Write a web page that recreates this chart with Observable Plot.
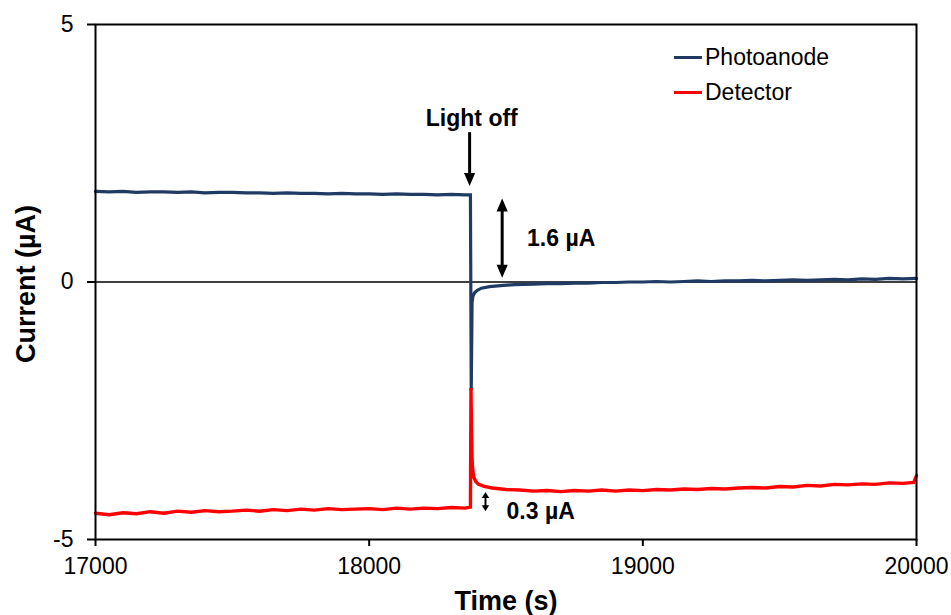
<!DOCTYPE html>
<html>
<head>
<meta charset="utf-8">
<script src="https://cdn.jsdelivr.net/npm/d3@7"></script>
<script src="https://cdn.jsdelivr.net/npm/@observablehq/plot@0.6"></script>
<style>
html,body{margin:0;padding:0;background:#fff;overflow:hidden;}
#wrap{position:relative;width:951px;height:615px;}
.legend{position:absolute;left:674px;top:40px;font-family:"Liberation Sans",Arial,sans-serif;font-size:23px;color:#000;}
.legend .row{display:flex;align-items:center;height:35px;white-space:nowrap;}
.legend .sw{display:inline-block;width:28px;height:3px;margin-right:3px;}
</style>
</head>
<body>
<div id="wrap"></div>
<script>
const FONT = '"Liberation Sans", Arial, sans-serif';

// ---- data (time in s, current in µA) ----
const photoTime = [17000,17050,17100,17150,17200,17250,17300,17350,17400,17450,17500,17550,17600,17650,17700,17750,17800,17850,17900,17950,18000,18050,18100,18150,18200,18250,18300,18350,18370,
  18373,18376,18379,18385,18395,18410,18440,18480,18530,18600,18650,18700,18750,18800,18850,18900,18950,19000,19050,19100,19150,19200,19250,19300,19350,19400,19450,19500,19550,19600,19650,19700,19750,19800,19850,19900,19950,20000];
const photoCurrent = [1.76,1.75,1.76,1.74,1.75,1.75,1.74,1.75,1.73,1.74,1.74,1.73,1.73,1.72,1.73,1.72,1.72,1.71,1.72,1.71,1.71,1.70,1.71,1.70,1.70,1.69,1.70,1.69,1.69,
  -2.10,-0.40,-0.28,-0.21,-0.16,-0.12,-0.09,-0.07,-0.05,-0.04,-0.03,-0.03,-0.02,-0.02,-0.01,-0.01,0.00,0.00,0.01,0.00,0.01,0.02,0.01,0.02,0.02,0.03,0.02,0.03,0.04,0.03,0.04,0.05,0.04,0.06,0.05,0.07,0.06,0.07];

const detTime = [17000,17050,17100,17150,17200,17250,17300,17350,17400,17450,17500,17550,17600,17650,17700,17750,17800,17850,17900,17950,18000,18050,18100,18150,18200,18250,18300,18350,18370,
  18372,18374,18376,18379,18383,18390,18400,18420,18450,18500,18550,18600,18650,18700,18750,18800,18850,18900,18950,19000,19050,19100,19150,19200,19250,19300,19350,19400,19450,19500,19550,19600,19650,19700,19750,19800,19850,19900,19950,19990,20000];
const detCurrent = [-4.49,-4.52,-4.48,-4.50,-4.46,-4.49,-4.45,-4.47,-4.44,-4.46,-4.45,-4.43,-4.45,-4.42,-4.44,-4.41,-4.43,-4.40,-4.42,-4.41,-4.40,-4.42,-4.39,-4.41,-4.39,-4.40,-4.38,-4.39,-4.37,
  -2.06,-2.90,-3.45,-3.68,-3.80,-3.88,-3.93,-3.97,-4.00,-4.03,-4.04,-4.06,-4.05,-4.07,-4.05,-4.06,-4.04,-4.06,-4.04,-4.05,-4.03,-4.04,-4.02,-4.03,-4.01,-4.02,-4.00,-3.99,-4.00,-3.97,-3.98,-3.95,-3.96,-3.93,-3.94,-3.92,-3.93,-3.90,-3.91,-3.89,-3.76];

const seriesNames = ["Photoanode", "Detector"];
const seriesColors = ["#1f3b63", "#ff0000"];

const xTicks = [17000, 18000, 19000, 20000];
const yTicks = [-5, 0, 5];
const xDomain = [17000, 20000];
const yDomain = [-5, 5];
const xTitle = "Time (s)";
const yTitle = "Current (µA)";

// annotations
const noteLabels = ["Light off", "1.6 µA", "0.3 µA"];
const noteTime = [18207, 18577, 18502];
const noteCurrent = [3.167, 0.845, -4.468];

const arrowTime = [18367, 18486, 18425];
const arrowTop = [2.90, 1.62, -4.08];
const arrowBottom = [1.866, 0.084, -4.45];
const arrowDouble = [false, true, true];
const arrowHead = [13, 12, 6];

// ---- build ----
const photo = photoTime.map((t, i) => ({t, v: photoCurrent[i]}));
const det = detTime.map((t, i) => ({t, v: detCurrent[i]}));
const notes = noteLabels.map((label, i) => ({label, t: noteTime[i], v: noteCurrent[i]}));
const arrows = arrowTime.map((t, i) => ({t, top: arrowTop[i], bottom: arrowBottom[i], dbl: arrowDouble[i], head: arrowHead[i]}));

function headSymbol(ratio) {
  return {
    draw(ctx, size) {
      const h = Math.sqrt(size / Math.PI);
      const w = h * ratio;
      ctx.moveTo(0, 0);
      ctx.lineTo(-w, -h);
      ctx.lineTo(w, -h);
      ctx.closePath();
    }
  };
}
const bigHead = headSymbol(0.43);
const smallHead = headSymbol(0.62);

const bigArrows = arrows.filter(a => a.head > 8);
const smallArrows = arrows.filter(a => a.head <= 8);

function arrowMarks(list, sym, r, shaftW) {
  return [
    ...list.map(a => Plot.ruleX([a], {x: "t", y1: "top", y2: "bottom", stroke: "#000", strokeWidth: shaftW,
      insetTop: a.dbl ? r - 2 : 0, insetBottom: r - 2})),
    Plot.dot(list, {x: "t", y: "bottom", symbol: sym, r, fill: "#000", stroke: "none"}),
    Plot.dot(list.filter(a => a.dbl), {x: "t", y: "top", symbol: sym, r, fill: "#000", stroke: "none", rotate: 180})
  ];
}

const chart = Plot.plot({
  width: 951,
  height: 615,
  marginLeft: 95,
  marginRight: 35,
  marginTop: 24,
  marginBottom: 76,
  style: {fontFamily: FONT, fontSize: "23px", color: "#000", background: "#fff"},
  x: {domain: xDomain},
  y: {domain: yDomain},
  marks: [
    Plot.ruleY([0], {stroke: "#000", strokeWidth: 1.5}),
    Plot.line(photo, {x: "t", y: "v", stroke: seriesColors[0], strokeWidth: 3.2, strokeLinejoin: "miter", strokeMiterlimit: 10}),
    Plot.line(det, {x: "t", y: "v", stroke: seriesColors[1], strokeWidth: 3.4, strokeLinejoin: "miter", strokeMiterlimit: 10}),
    Plot.frame({stroke: "#000", strokeWidth: 2}),
    Plot.axisX({ticks: xTicks, tickSize: 7, tickPadding: 11, tickFormat: d => String(d), strokeWidth: 2, label: null, fontSize: 23}),
    Plot.axisY({ticks: yTicks, tickSize: 8, tickPadding: 14, tickFormat: d => String(d), strokeWidth: 2, label: null, fontSize: 23}),
    Plot.text([xTitle], {text: d => d, frameAnchor: "bottom", dy: 62, textAnchor: "middle", lineAnchor: "middle", fontSize: 27, fontWeight: "bold"}),
    Plot.text([yTitle], {text: d => d, frameAnchor: "left", dx: -69, dy: 2, rotate: -90, textAnchor: "middle", lineAnchor: "middle", fontSize: 27, fontWeight: "bold"}),
    Plot.text(notes, {x: "t", y: "v", text: "label", textAnchor: "start", lineAnchor: "middle", fontSize: 23, fontWeight: "bold"}),
    ...arrowMarks(bigArrows, bigHead, 13, 3),
    ...arrowMarks(smallArrows, smallHead, 6, 2)
  ]
});

const wrap = document.getElementById("wrap");
wrap.appendChild(chart);

const legend = document.createElement("div");
legend.className = "legend";
seriesNames.forEach((name, i) => {
  const row = document.createElement("div");
  row.className = "row";
  const sw = document.createElement("span");
  sw.className = "sw";
  sw.style.background = seriesColors[i];
  row.appendChild(sw);
  row.appendChild(document.createTextNode(name));
  legend.appendChild(row);
});
wrap.appendChild(legend);
</script>
</body>
</html>
